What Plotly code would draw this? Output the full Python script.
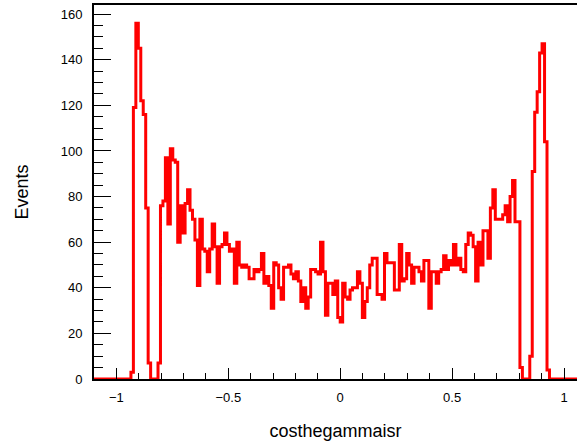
import plotly.graph_objects as go

# Histogram binning (200 bins on [-1.1, 1.1])
x_low = -1.1
x_high = 1.1
n_bins = 200

# Bin contents
counts = [
    0, 0, 0, 0, 0, 0, 0, 0, 0, 0,
    0, 0, 0, 0, 0, 3, 119, 156, 145, 122,
    116, 75, 7, 0, 0, 0, 7, 76, 78, 97,
    68, 101, 96, 95, 60, 76, 64, 77, 83, 74,
    70, 61, 41, 70, 57, 56, 47, 57, 68, 58,
    42, 58, 59, 64, 59, 56, 57, 42, 60, 50,
    49, 50, 49, 44, 44, 48, 47, 48, 55, 42,
    45, 41, 31, 51, 50, 40, 35, 49, 49, 50,
    46, 44, 47, 43, 34, 40, 31, 36, 48, 48,
    47, 46, 60, 47, 28, 42, 42, 37, 43, 27,
    25, 42, 36, 35, 39, 40, 40, 47, 42, 27,
    34, 40, 50, 53, 53, 37, 37, 35, 55, 51,
    51, 51, 39, 39, 59, 43, 44, 55, 50, 42,
    49, 49, 47, 43, 52, 52, 31, 47, 47, 42,
    47, 48, 54, 48, 52, 50, 59, 50, 53, 48,
    47, 59, 64, 63, 58, 43, 60, 50, 65, 65,
    53, 75, 83, 70, 70, 70, 72, 76, 69, 80,
    87, 69, 69, 5, 0, 0, 0, 10, 91, 117,
    126, 143, 147, 104, 4, 0, 0, 0, 0, 0,
    0, 0, 0, 0, 0, 0, 0, 0, 0, 0,
]

x_title = "costhegammaisr"
y_title = "Events"

bin_width = (x_high - x_low) / n_bins
edges = [x_low + i * bin_width for i in range(n_bins + 1)]
step_y = counts + [counts[-1]]

fig = go.Figure()
fig.add_trace(go.Scatter(
    x=edges, y=step_y, mode="lines", line_shape="hv",
    line=dict(color="#ff0000", width=3), hoverinfo="skip",
))

font_family = "Liberation Sans, Arial, Helvetica, sans-serif"
fig.update_layout(
    width=577, height=444,
    margin=dict(l=94, r=0, t=5, b=65),
    plot_bgcolor="white", paper_bgcolor="white",
    showlegend=False,
    font=dict(family=font_family, color="black", size=13),
)
fig.update_xaxes(
    range=[-1.1, 1.058], tick0=0, dtick=0.5,
    ticks="inside", ticklen=11, tickwidth=1, tickcolor="black",
    minor=dict(dtick=0.1, ticks="inside", ticklen=6, tickwidth=1, tickcolor="black"),
    showline=True, linecolor="black", linewidth=2, mirror=True,
    showgrid=False, zeroline=False,
    tickfont=dict(size=13, family=font_family),
    ticklabelstandoff=5,
    title=dict(text=x_title, font=dict(size=18, family=font_family), standoff=21),
)
fig.update_yaxes(
    range=[0, 164], tick0=0, dtick=20,
    ticks="inside", ticklen=17, tickwidth=1, tickcolor="black",
    minor=dict(dtick=5, ticks="inside", ticklen=9, tickwidth=1, tickcolor="black"),
    showline=True, linecolor="black", linewidth=2, mirror=False,
    showgrid=False, zeroline=False,
    tickfont=dict(size=13, family=font_family),
    ticklabelstandoff=7,
    title=dict(text=y_title, font=dict(size=18, family=font_family), standoff=27),
)

fig.write_html("out.html")
